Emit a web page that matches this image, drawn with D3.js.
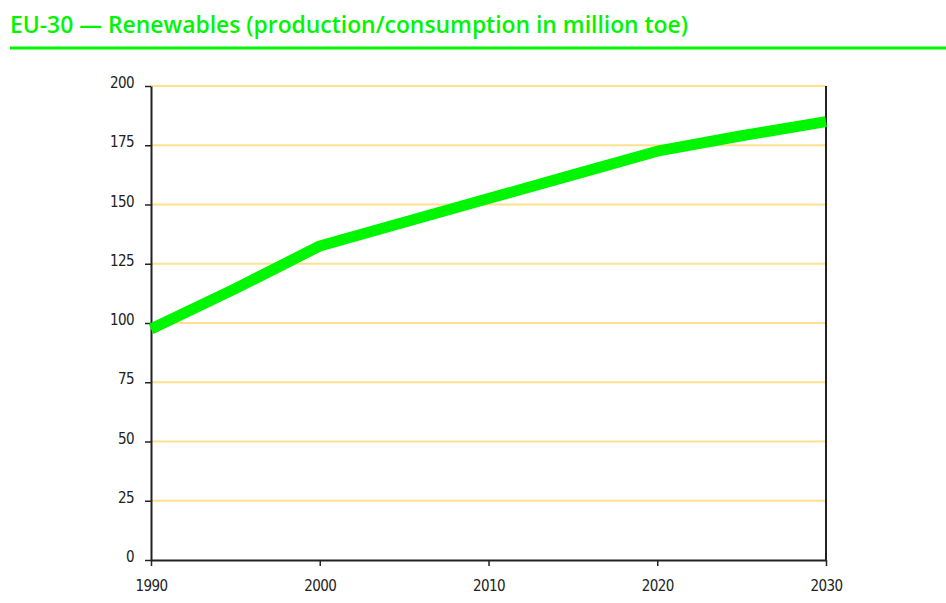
<!DOCTYPE html>
<html>
<head>
<meta charset="utf-8">
<script src="https://cdn.jsdelivr.net/npm/d3@7"></script>
<style>
  html, body { margin: 0; padding: 0; background: #fff; }
  svg { display: block; }
</style>
</head>
<body>
<svg id="chart" width="946" height="603"></svg>
<script>
// Renewables production/consumption, EU-30, million toe
const years = [1990, 1995, 2000, 2005, 2010, 2015, 2020, 2025, 2030];
const renewables = [97.5, 114.5, 132.5, 142.5, 152.5, 162.5, 172.5, 179, 185];
const yTicks = [0, 25, 50, 75, 100, 125, 150, 175, 200];
const xTicks = [1990, 2000, 2010, 2020, 2030];
const titleText = "EU-30 \u2014 Renewables (production/consumption in million toe)";

const svg = d3.select("#chart");
const green = "#00f500";
const labelFont = "'Liberation Sans Narrow', 'DejaVu Sans Condensed', 'Liberation Sans', sans-serif";

// Title and rule
svg.append("text")
  .attr("x", 10).attr("y", 33)
  .attr("fill", green)
  .attr("font-family", "'Open Sans', 'Noto Sans', sans-serif")
  .attr("font-weight", 600)
  .attr("font-size", 24)
  .attr("textLength", 678)
  .attr("lengthAdjust", "spacingAndGlyphs")
  .text(titleText);

svg.append("rect")
  .attr("x", 10).attr("y", 46.5)
  .attr("width", 936).attr("height", 3)
  .attr("fill", green);

const x = d3.scaleLinear().domain([1990, 2030]).range([151, 826]);
const y = d3.scaleLinear().domain([0, 200]).range([560, 86]);

// Horizontal grid lines
svg.append("g")
  .selectAll("line")
  .data(yTicks.filter(d => d > 0))
  .join("line")
  .attr("x1", x(1990)).attr("x2", x(2030))
  .attr("y1", d => y(d)).attr("y2", d => y(d))
  .attr("stroke", "#ffe08c")
  .attr("stroke-width", 2);

// Y axis
const yAxis = svg.append("g")
  .attr("transform", `translate(${x(1990)},0)`)
  .call(d3.axisLeft(y).tickValues(yTicks).tickSize(6).tickPadding(11).tickSizeOuter(0));
yAxis.select(".domain").attr("stroke", "#222").attr("stroke-width", 2);
yAxis.selectAll(".tick line").attr("stroke", "#222").attr("stroke-width", 1.5);
yAxis.selectAll(".tick text")
  .attr("font-family", labelFont)
  .attr("font-size", 15)
  .attr("fill", "#222")
  .attr("letter-spacing", -0.6)
  .attr("dy", "0.1em");

// X axis
const xAxis = svg.append("g")
  .attr("transform", `translate(0,${y(0)})`)
  .call(d3.axisBottom(x).tickValues(xTicks).tickFormat(d3.format("d")).tickSize(6).tickPadding(14).tickSizeOuter(0));
xAxis.select(".domain").attr("stroke", "#222").attr("stroke-width", 2);
xAxis.selectAll(".tick line").attr("stroke", "#222").attr("stroke-width", 1.5);
xAxis.selectAll(".tick text")
  .attr("font-family", labelFont)
  .attr("font-size", 15)
  .attr("fill", "#222")
  .attr("letter-spacing", -0.6);

// Right frame line
svg.append("line")
  .attr("x1", x(2030)).attr("x2", x(2030))
  .attr("y1", y(200)).attr("y2", y(0))
  .attr("stroke", "#222")
  .attr("stroke-width", 2);

// Series line
const line = d3.line()
  .x((d, i) => x(years[i]))
  .y(d => y(d));

svg.append("path")
  .datum(renewables)
  .attr("d", line)
  .attr("fill", "none")
  .attr("stroke", green)
  .attr("stroke-width", 11)
  .attr("stroke-linejoin", "round")
  .attr("stroke-linecap", "butt");
</script>
</body>
</html>
